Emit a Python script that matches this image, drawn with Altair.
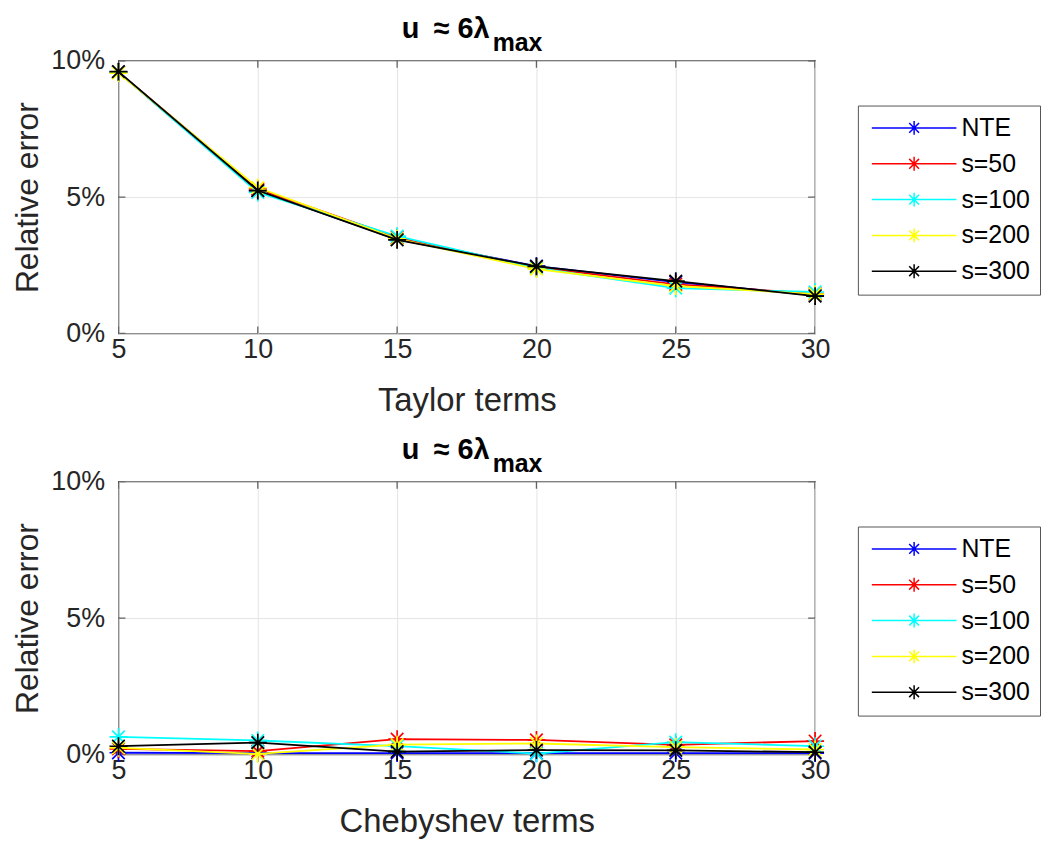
import altair as alt
import pandas as pd

# ---------------- data ----------------
x_terms = [5, 10, 15, 20, 25, 30]
series_names = ["NTE", "s=50", "s=100", "s=200", "s=300"]
series_colors = ["#0000ff", "#ff0000", "#00ffff", "#ffff00", "#000000"]

# Relative error (%) -- Taylor expansion
taylor_nte = [9.58, 5.24, 3.45, 2.47, 1.88, 1.40]
taylor_s50 = [9.58, 5.30, 3.52, 2.42, 1.80, 1.46]
taylor_s100 = [9.58, 5.17, 3.57, 2.40, 1.66, 1.52]
taylor_s200 = [9.55, 5.35, 3.47, 2.36, 1.74, 1.44]
taylor_s300 = [9.60, 5.24, 3.43, 2.46, 1.92, 1.37]

# Relative error (%) -- Chebyshev expansion
cheb_nte = [0.06, 0.05, 0.05, 0.05, 0.05, 0.05]
cheb_s50 = [0.20, 0.12, 0.56, 0.53, 0.35, 0.49]
cheb_s100 = [0.64, 0.51, 0.30, 0.03, 0.45, 0.30]
cheb_s200 = [0.24, 0.02, 0.36, 0.40, 0.27, 0.18]
cheb_s300 = [0.30, 0.43, 0.10, 0.16, 0.15, 0.08]

x_ticks = [5, 10, 15, 20, 25, 30]
y_ticks = [0.0, 0.05, 0.10]

panels = [
    ("Taylor terms", [taylor_nte, taylor_s50, taylor_s100, taylor_s200, taylor_s300]),
    ("Chebyshev terms", [cheb_nte, cheb_s50, cheb_s100, cheb_s200, cheb_s300]),
]

# ---------------- style ----------------
FONT = "Liberation Sans"
AX = "#262626"
GRID = "#e4e4e4"
W, H = 700, 274
STAR = "M0,-1V1M-1,0H1M-0.7,-0.7L0.7,0.7M-0.7,0.7L0.7,-0.7"
LEG_SYM = ("M-5,0H5M0,-0.82V0.82M-0.58,-0.58L0.58,0.58M-0.58,0.58L0.58,-0.58")

x_scale = alt.Scale(domain=[5, 30], nice=False, zero=False)
y_scale = alt.Scale(domain=[0, 0.10], nice=False)
color_scale = alt.Scale(domain=series_names, range=series_colors)


def x_axis(title):
    return alt.Axis(values=x_ticks, title=title, grid=True, ticks=False, domain=False,
                    labelFlush=False, labelOverlap=False, labelPadding=3,
                    titlePadding=22, titleFontSize=33)


def y_axis():
    return alt.Axis(values=y_ticks, format=".0%", title="Relative error", grid=True,
                    ticks=False, domain=False, labelFlush=False, labelOverlap=False,
                    labelPadding=14, titlePadding=6, titleFontSize=32)


def make_panel(xtitle, series_vals):
    rows = []
    for name, vals in zip(series_names, series_vals):
        for xv, v in zip(x_terms, vals):
            rows.append({"x": xv, "err": v / 100.0, "series": name})
    df = pd.DataFrame(rows)

    legend = alt.Legend(
        title=None, orient="none", legendX=743, legendY=45,
        symbolType=LEG_SYM, symbolSize=289, symbolOffset=34, labelOffset=35,
        symbolStrokeWidth=1.5, symbolFillColor="transparent",
        labelFont=FONT, labelFontSize=25, labelColor="#000000",
        rowPadding=10, padding=10, strokeColor="#555555", fillColor="white",
        labelLimit=200,
    )

    layers = []
    for name in series_names:
        sub = df[df.series == name]
        base = alt.Chart(sub).encode(
            x=alt.X("x:Q", scale=x_scale, axis=x_axis(xtitle)),
            y=alt.Y("err:Q", scale=y_scale, axis=y_axis()),
            color=alt.Color("series:N", scale=color_scale, legend=legend,
                            sort=series_names),
        )
        layers.append(base.mark_line(strokeWidth=1.8))
        layers.append(base.mark_point(shape=STAR, size=324, filled=False,
                                      strokeWidth=1.7, opacity=1))

    # inward ticks (MATLAB style)
    tb = pd.DataFrame([{"x": xv, "err": yv} for xv in x_ticks for yv in [0.0, 0.10]])
    lr = pd.DataFrame([{"x": xv, "err": yv} for xv in [5, 30] for yv in y_ticks])
    ticks_v = alt.Chart(tb).mark_tick(orient="vertical", size=14, thickness=1.3,
                                      color=AX, clip=True).encode(
        x=alt.X("x:Q", scale=x_scale), y=alt.Y("err:Q", scale=y_scale))
    ticks_h = alt.Chart(lr).mark_tick(orient="horizontal", size=14, thickness=1.3,
                                      color=AX, clip=True).encode(
        x=alt.X("x:Q", scale=x_scale), y=alt.Y("err:Q", scale=y_scale))

    tdf = pd.DataFrame({"t": ["u\u2002\u2248 6\u03bb"]})
    mdf = pd.DataFrame({"t": ["max"]})
    t1 = alt.Chart(tdf).mark_text(font=FONT, fontSize=29, fontWeight="bold",
                                  align="right", baseline="top", color="#000").encode(
        text="t:N", x=alt.value(373), y=alt.value(-46))
    t2 = alt.Chart(mdf).mark_text(font=FONT, fontSize=25, fontWeight="bold",
                                  align="left", baseline="top", color="#000").encode(
        text="t:N", x=alt.value(376), y=alt.value(-30))

    return alt.layer(ticks_v, ticks_h, *layers, t1, t2).properties(width=W, height=H)


top = make_panel(*panels[0])
bottom = make_panel(*panels[1])

chart = alt.vconcat(top, bottom, spacing=17).resolve_scale(
    color="independent", x="independent", y="independent"
).resolve_legend(color="independent").properties(
    padding={"left": 3, "top": 4, "right": 0, "bottom": 0}
).configure_view(
    stroke=AX, strokeWidth=1.3
).configure_axis(
    labelFont=FONT, titleFont=FONT, labelFontSize=27,
    titleFontWeight="normal", labelColor=AX, titleColor=AX, gridColor=GRID,
    gridWidth=1,
)

chart.save("out.html", embed_options={"renderer": "svg", "actions": False})
